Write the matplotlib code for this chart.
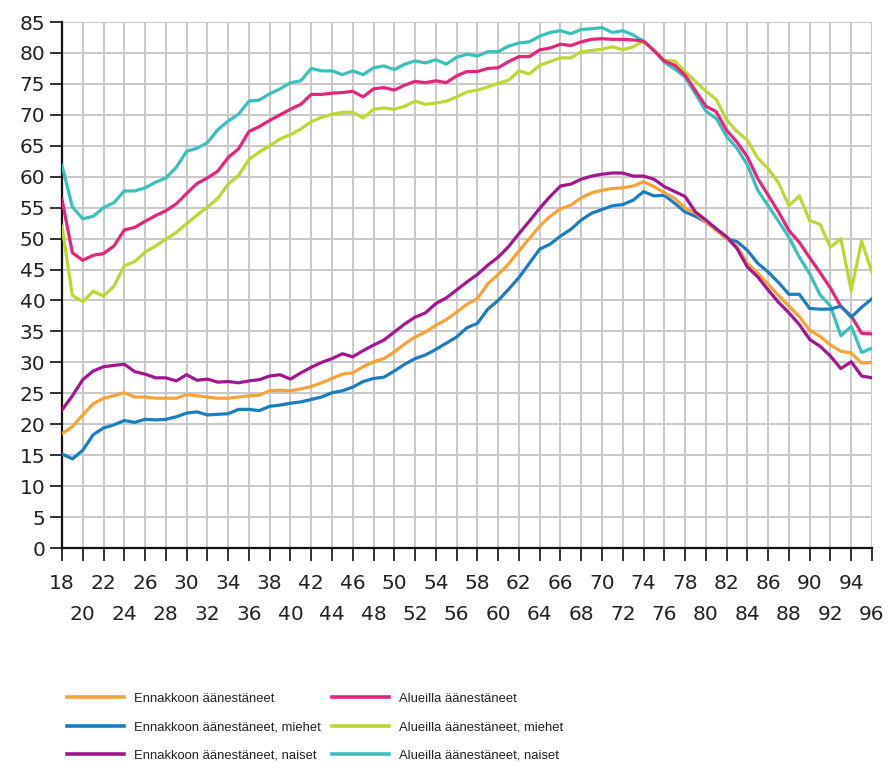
import matplotlib
matplotlib.use("Agg")
import matplotlib.pyplot as plt
from matplotlib.lines import Line2D

ages = list(range(18, 97))

ennakko = [18.5, 19.6, 21.5, 23.3, 24.2, 24.6, 25.1, 24.4, 24.4, 24.2,
           24.2, 24.2, 24.8, 24.6, 24.4, 24.2, 24.2, 24.4, 24.6, 24.7,
           25.4, 25.5, 25.4, 25.7, 26.1, 26.7, 27.4, 28.1, 28.3, 29.3,
           30.1, 30.6, 31.7, 33.0, 34.1, 34.9, 36.0, 36.9, 38.1, 39.4,
           40.3, 42.7, 44.2, 45.9, 48.0, 50.0, 52.0, 53.6, 54.8, 55.4,
           56.6, 57.4, 57.8, 58.1, 58.2, 58.5, 59.2, 58.4, 57.4, 56.5,
           54.9, 54.1, 52.7, 51.4, 50.0, 48.7, 46.0, 44.4, 42.6, 40.8,
           39.1, 37.4, 35.2, 34.2, 32.8, 31.8, 31.5, 29.9, 30.0]

ennakko_miehet = [15.2, 14.4, 15.8, 18.3, 19.4, 19.9, 20.6, 20.3, 20.8, 20.7,
                  20.8, 21.2, 21.8, 22.0, 21.5, 21.6, 21.7, 22.4, 22.4, 22.2,
                  22.9, 23.1, 23.4, 23.6, 24.0, 24.4, 25.1, 25.4, 26.0, 26.9,
                  27.4, 27.6, 28.6, 29.7, 30.6, 31.2, 32.1, 33.1, 34.1, 35.6,
                  36.3, 38.6, 40.0, 41.8, 43.7, 46.0, 48.3, 49.1, 50.4, 51.5,
                  53.0, 54.1, 54.7, 55.3, 55.5, 56.2, 57.6, 56.9, 57.0, 55.7,
                  54.3, 53.6, 52.7, 51.4, 50.0, 49.5, 48.1, 46.0, 44.6, 42.9,
                  41.0, 41.0, 38.7, 38.6, 38.6, 39.1, 37.3, 38.9, 40.3]

ennakko_naiset = [22.3, 24.6, 27.2, 28.6, 29.3, 29.5, 29.7, 28.5, 28.1, 27.5,
                  27.5, 27.0, 28.0, 27.1, 27.3, 26.8, 26.9, 26.7, 27.0, 27.2,
                  27.8, 28.0, 27.3, 28.3, 29.2, 30.0, 30.6, 31.4, 30.9, 31.9,
                  32.8, 33.6, 34.9, 36.2, 37.3, 38.0, 39.5, 40.4, 41.7, 43.0,
                  44.2, 45.7, 47.0, 48.7, 50.8, 52.8, 54.9, 56.8, 58.5, 58.8,
                  59.6, 60.1, 60.4, 60.6, 60.6, 60.1, 60.1, 59.6, 58.4, 57.6,
                  56.8, 54.3, 53.0, 51.6, 50.3, 48.4, 45.4, 43.8, 41.7, 39.7,
                  38.0, 36.1, 33.7, 32.6, 31.0, 29.0, 30.1, 27.8, 27.5]

alueilla = [56.3, 47.7, 46.5, 47.3, 47.6, 48.8, 51.4, 51.8, 52.8, 53.7,
            54.5, 55.6, 57.3, 58.9, 59.8, 60.9, 63.1, 64.5, 67.3, 68.1,
            69.1, 70.0, 70.9, 71.7, 73.3, 73.3, 73.5, 73.6, 73.8, 72.9,
            74.2, 74.4, 74.0, 74.8, 75.4, 75.2, 75.5, 75.2, 76.3, 77.0,
            77.0, 77.5, 77.6, 78.6, 79.4, 79.4, 80.5, 80.8, 81.4, 81.2,
            81.8, 82.2, 82.3, 82.2, 82.2, 82.1, 81.9, 80.4, 78.7, 78.0,
            76.4, 73.9, 71.4, 70.5, 67.5, 65.6, 63.2, 59.7, 57.0, 54.3,
            51.3, 49.4, 46.9, 44.5, 42.0, 39.0, 37.5, 34.7, 34.6]

alueilla_miehet = [52.0, 40.8, 39.8, 41.5, 40.7, 42.3, 45.6, 46.3, 47.8, 48.8,
                   49.9, 51.0, 52.4, 53.8, 55.1, 56.5, 58.8, 60.2, 62.8, 64.0,
                   65.0, 66.1, 66.8, 67.7, 68.9, 69.6, 70.1, 70.4, 70.4, 69.5,
                   70.9, 71.1, 70.9, 71.4, 72.2, 71.7, 71.9, 72.2, 72.9, 73.7,
                   74.0, 74.5, 75.1, 75.6, 77.1, 76.6, 78.0, 78.6, 79.2, 79.2,
                   80.2, 80.4, 80.6, 81.0, 80.5, 81.0, 81.9, 80.4, 78.8, 78.7,
                   77.0, 75.4, 73.8, 72.5, 69.2, 67.3, 65.9, 63.0, 61.3, 59.0,
                   55.3, 56.9, 52.9, 52.3, 48.6, 50.0, 41.6, 49.6, 44.5]

alueilla_naiset = [61.8, 55.1, 53.2, 53.6, 55.0, 55.8, 57.7, 57.7, 58.2, 59.1,
                   59.8, 61.5, 64.1, 64.6, 65.5, 67.6, 69.0, 70.1, 72.2, 72.4,
                   73.4, 74.2, 75.2, 75.5, 77.5, 77.1, 77.1, 76.5, 77.1, 76.5,
                   77.6, 77.9, 77.3, 78.2, 78.7, 78.4, 78.9, 78.2, 79.3, 79.8,
                   79.5, 80.2, 80.2, 81.1, 81.6, 81.8, 82.7, 83.3, 83.6, 83.1,
                   83.8, 83.9, 84.1, 83.3, 83.6, 82.9, 81.9, 80.4, 78.5, 77.4,
                   76.1, 73.4, 70.6, 69.4, 66.5, 64.6, 61.9, 57.8, 55.3, 52.8,
                   50.2, 47.0, 44.3, 40.9, 39.1, 34.3, 35.8, 31.6, 32.3]

xticks_upper = list(range(18, 97, 4))
xticks_lower = list(range(20, 97, 4))
yticks = list(range(0, 86, 5))

labels = ["Ennakkoon äänestäneet", "Ennakkoon äänestäneet, miehet",
          "Ennakkoon äänestäneet, naiset", "Alueilla äänestäneet",
          "Alueilla äänestäneet, miehet", "Alueilla äänestäneet, naiset"]
colors = ["#F8A236", "#1B7CBF", "#A3168F", "#E6247B", "#BDD631", "#38C0BC"]
series = [ennakko, ennakko_miehet, ennakko_naiset, alueilla, alueilla_miehet, alueilla_naiset]

fig = plt.figure(figsize=(8.88, 7.67), dpi=100)
ax = fig.add_axes([62/888, 1-548/767, (872-62)/888, (548-22)/767])

draw_order = [5, 4, 3, 1, 0, 2]
for i in draw_order:
    ax.plot(ages, series[i], color=colors[i], lw=2.3, solid_joinstyle='round', zorder=3)

ax.set_xlim(18, 96)
ax.set_ylim(0, 85)
ax.set_xticks(xticks_upper)
ax.set_xticklabels([str(v) for v in xticks_upper])
ax.set_xticks(xticks_lower, minor=True)
ax.set_xticklabels([str(v) for v in xticks_lower], minor=True)
ax.set_yticks(yticks)
ax.grid(True, which='both', color="#c8c8c8", lw=1.4, zorder=0)
ax.set_axisbelow(True)
ax.tick_params(axis='both', which='both', labelsize=14.5, colors='#222222', length=9,
               width=1.3, labelcolor='#222222')
ax.tick_params(axis='x', which='major', pad=10)
ax.tick_params(axis='x', which='minor', pad=32)
ax.tick_params(axis='y', pad=3)
ax.spines['top'].set_visible(False)
ax.spines['right'].set_visible(False)
for s in ['left', 'bottom']:
    ax.spines[s].set_color('#111111')
    ax.spines[s].set_linewidth(1.6)

font = {'family': ['Liberation Sans', 'DejaVu Sans'], 'size': 9.4}
h = [Line2D([0], [0], color=c, lw=2.6) for c in colors]
leg1 = fig.legend(h[:3], labels[:3], loc='center left', bbox_to_anchor=(67/888, 1-727/767),
                  frameon=False, prop=font, handlelength=4.4, handletextpad=0.7,
                  labelspacing=1.25, borderpad=0, borderaxespad=0)
leg2 = fig.legend(h[3:], labels[3:], loc='center left', bbox_to_anchor=(332/888, 1-727/767),
                  frameon=False, prop=font, handlelength=4.4, handletextpad=0.7,
                  labelspacing=1.25, borderpad=0, borderaxespad=0)
for leg in (leg1, leg2):
    for t in leg.get_texts():
        t.set_color('#222222')

fig.savefig("out.png", dpi=100)
